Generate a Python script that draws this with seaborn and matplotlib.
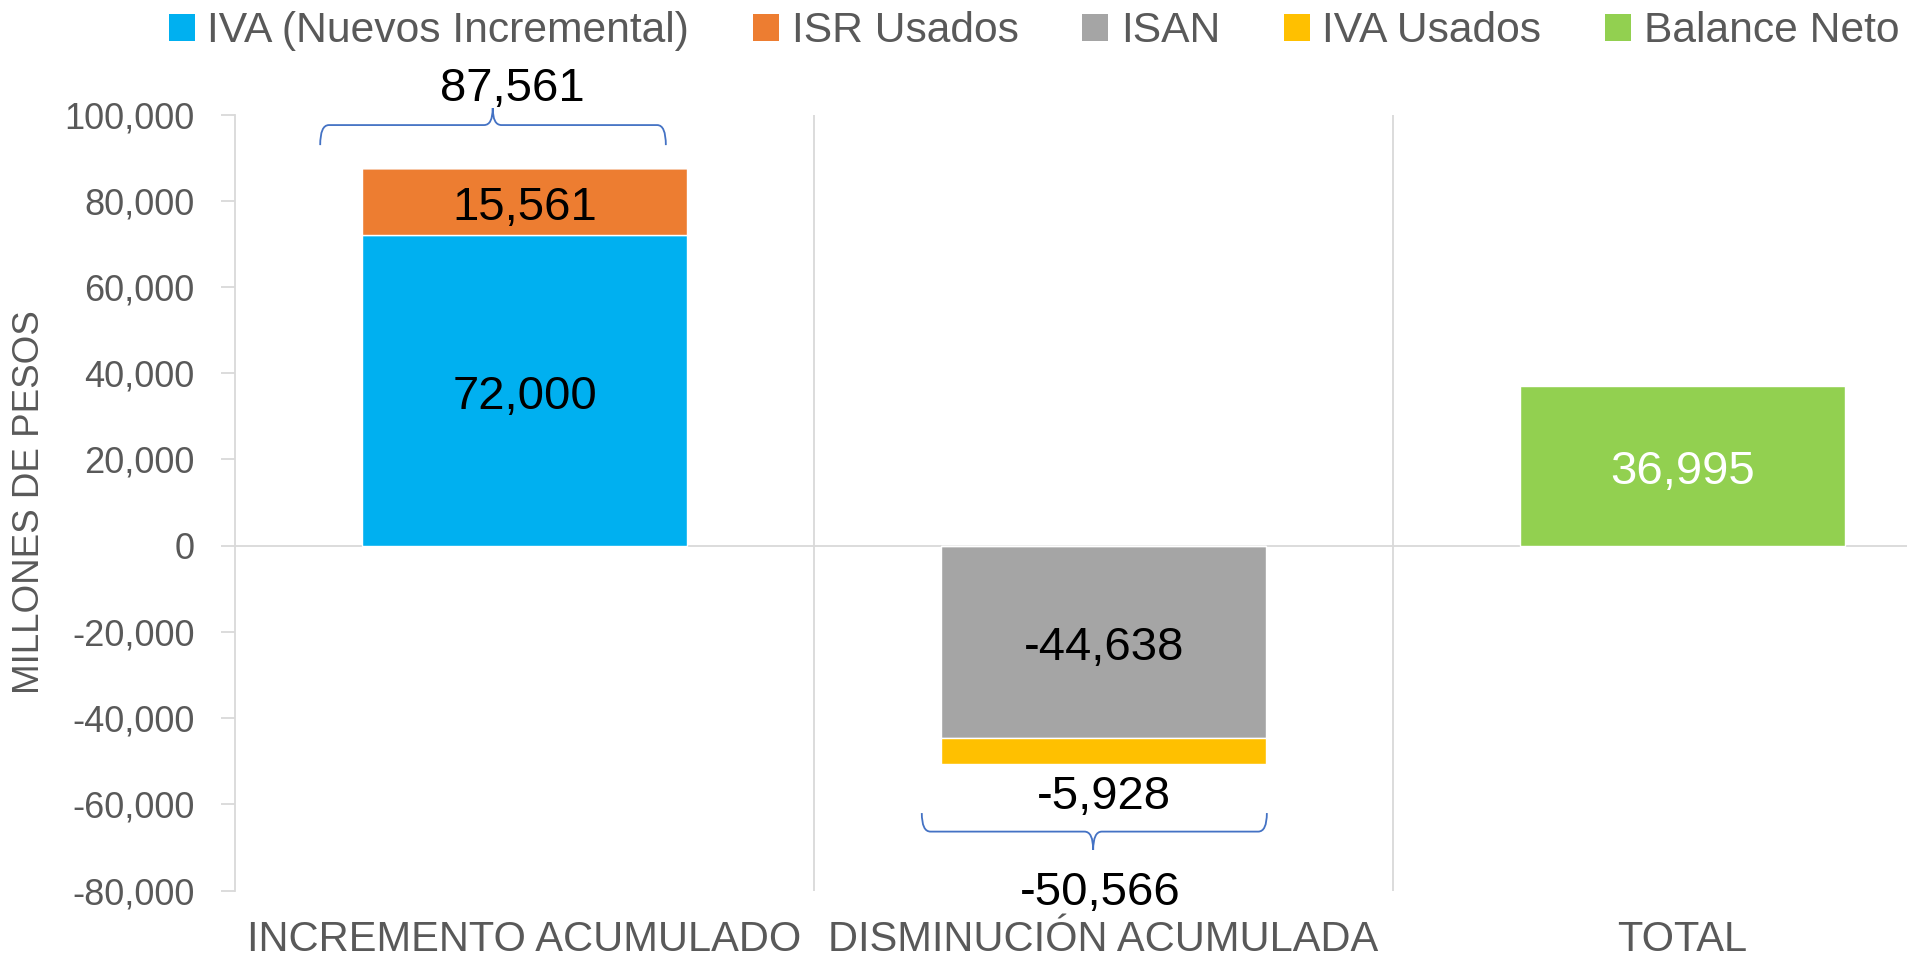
import numpy as np
import matplotlib
matplotlib.use("Agg")
import matplotlib.pyplot as plt
from matplotlib.path import Path
from matplotlib.patches import PathPatch, Patch
from matplotlib.ticker import FuncFormatter
import seaborn as sns

# datos (millones de pesos)
categories = ["INCREMENTO ACUMULADO", "DISMINUCIÓN ACUMULADA", "TOTAL"]
series_names = ["IVA (Nuevos Incremental)", "ISR Usados", "ISAN", "IVA Usados", "Balance Neto"]
iva_nuevos = [72000, 0, 0]
isr_usados = [15561, 0, 0]
isan = [0, -44638, 0]
iva_usados = [0, -5928, 0]
balance_neto = [0, 0, 36995]
colors = ["#00B0F0", "#ED7D31", "#A5A5A5", "#FFC000", "#92D050"]
y_ticks = list(range(-80000, 100001, 20000))

GRID = "#D9D9D9"
TXT = "#595959"

sns.set_style("white")
plt.rcParams["font.family"] = ["Liberation Sans", "DejaVu Sans"]

fig = plt.figure(figsize=(19.08, 9.63), dpi=100)
ax = fig.add_axes([0.1232, 0.0751, 0.9104, 0.806])


def label(ax, x, y, txt, color="black"):
    # pequeño desplazamiento para centrar visualmente los dígitos
    ax.annotate(txt, (x, y), xytext=(0, -4.5), textcoords="offset points",
                ha="center", va="center", fontsize=34, color=color,
                annotation_clip=False, zorder=5)


all_series = [iva_nuevos, isr_usados, isan, iva_usados, balance_neto]
pos_base = np.zeros(len(categories))
neg_base = np.zeros(len(categories))
for name, vals, col in zip(series_names, all_series, colors):
    vals = np.array(vals, dtype=float)
    bottom = np.where(vals >= 0, pos_base, neg_base)
    sns.barplot(x=categories, y=vals, bottom=bottom, color=col, saturation=1,
                width=0.56, errorbar=None, ax=ax, zorder=3)

    # etiquetas de cada segmento
    for i, v in enumerate(vals):
        if v == 0:
            continue
        if abs(v) < 8000:
            y = bottom[i] + v - 6200  # segmento delgado: etiqueta debajo
        else:
            y = bottom[i] + v / 2
        label(ax, i, y, f"{v:,.0f}", "white" if name == "Balance Neto" else "black")

    pos_base += np.where(vals >= 0, vals, 0)
    neg_base += np.where(vals < 0, vals, 0)


def draw_brace(ax, x0, x1, xtip, y_end, y_mid, y_tip, dx=0.015):
    verts = [
        (x0, y_end), (x0, y_mid), (x0 + dx, y_mid),
        (xtip - dx, y_mid),
        (xtip, y_mid), (xtip, y_tip),
        (xtip, y_mid), (xtip + dx, y_mid),
        (x1 - dx, y_mid),
        (x1, y_mid), (x1, y_end),
    ]
    codes = [Path.MOVETO, Path.CURVE3, Path.CURVE3, Path.LINETO,
             Path.CURVE3, Path.CURVE3, Path.CURVE3, Path.CURVE3,
             Path.LINETO, Path.CURVE3, Path.CURVE3]
    ax.add_patch(PathPatch(Path(verts, codes), fill=False, edgecolor="#4472C4",
                           lw=1.3, clip_on=False, zorder=4))


# llave del incremento
draw_brace(ax, -0.353, 0.244, -0.055, 92900, 97550, 101500)
label(ax, -0.022, 107400, f"{pos_base[0]:,.0f}")

# llave de la disminución
draw_brace(ax, 1 - 0.314, 1 + 0.282, 1 - 0.018, -62000, -66300, -70560)
label(ax, 1 - 0.006, -79000, f"{neg_base[1]:,.0f}")

# ejes
ax.set_xlim(-0.5, 2.5)
ax.set_ylim(-80000, 100000)
ax.set_yticks(y_ticks)
ax.yaxis.set_major_formatter(FuncFormatter(lambda v, p: f"{v:,.0f}"))
ax.set_xticks(range(len(categories)))
ax.set_xticklabels(categories)
for sp in ["top", "right", "bottom"]:
    ax.spines[sp].set_visible(False)
ax.spines["left"].set_color(GRID)
ax.spines["left"].set_linewidth(1.3)
ax.tick_params(axis="y", direction="out", length=10, width=1.3, color=GRID,
               labelcolor=TXT, labelsize=26, pad=19, left=True)
ax.tick_params(axis="x", length=0, labelcolor=TXT, labelsize=30, pad=21)
for x in [0.5, 1.5, 2.5]:
    ax.axvline(x, color=GRID, lw=1.3, zorder=1)
ax.axhline(0, color=GRID, lw=1.3, zorder=1)
ax.set_xlabel("")
ax.set_ylabel("MILLONES DE PESOS", fontsize=26.5, color=TXT)
ax.yaxis.set_label_coords(-0.1082, 0.5)

handles = [Patch(facecolor=c, edgecolor="none") for c in colors]
fig.legend(handles, series_names, loc="upper center", bbox_to_anchor=(0.542, 1.028),
           ncol=5, frameon=False, fontsize=30.7, handlelength=0.6, handleheight=0.6,
           handletextpad=0.3, columnspacing=1.5, labelcolor=TXT)

fig.savefig("out.png", dpi=100)
